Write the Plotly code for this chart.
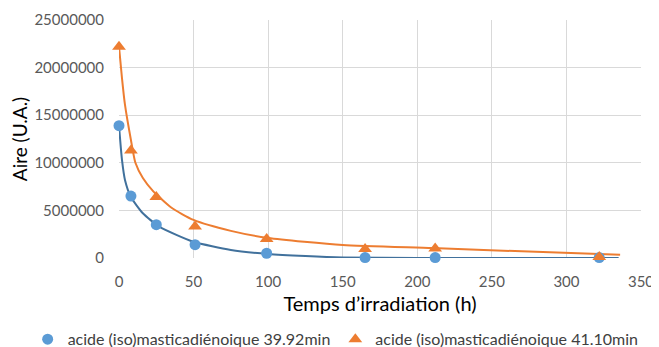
import plotly.graph_objects as go

# Measured points
temps = [0, 8, 25, 51, 99, 165, 212, 322]
aire_3992 = [13900000, 6500000, 3500000, 1400000, 500000, 50000, 50000, 50000]
aire_4110 = [22200000, 11300000, 6400000, 3300000, 2000000, 950000, 1000000, 100000]

# Trend curves
courbe_x_3992 = [0, 2, 4, 8, 16, 27, 50, 75, 100, 125, 150, 200, 250, 300, 335]
courbe_y_3992 = [13900000, 10300000, 8200000, 6400000, 4700000, 3300000, 1700000, 840000,
                 420000, 200000, 50000, 0, 0, 0, 0]
courbe_x_4110 = [0, 2, 4, 8, 11, 16, 23, 35, 50, 75, 100, 150, 210, 270, 336]
courbe_y_4110 = [22200000, 18900000, 16100000, 12400000, 10000000, 8400000, 7000000, 5300000,
                 4000000, 2850000, 2100000, 1370000, 1050000, 700000, 350000]

nom_3992 = "acide (iso)masticadiénoique 39.92min"
nom_4110 = "acide (iso)masticadiénoique 41.10min"
x_ticks = [0, 50, 100, 150, 200, 250, 300, 350]
y_ticks = [0, 5000000, 10000000, 15000000, 20000000, 25000000]

BLEU = "#5b9bd5"
BLEU_F = "#41719c"
ORANGE = "#ed7d31"
FONT = "Lato, Liberation Sans, Arial, sans-serif"

fig = go.Figure()
fig.add_trace(go.Scatter(x=courbe_x_3992, y=courbe_y_3992, mode="lines",
                         line=dict(color=BLEU_F, width=2, shape="spline", smoothing=0.6),
                         showlegend=False, hoverinfo="skip"))
fig.add_trace(go.Scatter(x=courbe_x_4110, y=courbe_y_4110, mode="lines",
                         line=dict(color=ORANGE, width=2, shape="spline", smoothing=0.6),
                         showlegend=False, hoverinfo="skip"))
fig.add_trace(go.Scatter(x=temps, y=aire_3992, mode="markers", name=nom_3992, cliponaxis=False,
                         marker=dict(symbol="circle", size=11, color=BLEU)))
fig.add_trace(go.Scatter(x=temps, y=aire_4110, mode="markers", name=nom_4110, cliponaxis=False,
                         marker=dict(symbol="triangle-up", size=12, color=ORANGE)))

fig.update_layout(
    width=651, height=339,
    margin=dict(l=111, r=18, t=12, b=89, autoexpand=False),
    paper_bgcolor="white", plot_bgcolor="white",
    font=dict(family=FONT, size=14, color="#595959"),
    legend=dict(orientation="h", x=-0.175, xanchor="left", y=-0.27, yanchor="top",
                font=dict(size=16, color="#404040"), itemwidth=30,
                tracegroupgap=0, traceorder="normal"),
)
fig.update_xaxes(range=[0, 350], tickvals=x_ticks, showgrid=True, gridcolor="#d9d9d9",
                 gridwidth=1, zeroline=False, showline=False, ticks="", automargin=False,
                 tickfont=dict(size=15, color="#595959"), ticklabelstandoff=13,
                 title=dict(text="Temps d’irradiation (h)", font=dict(size=20, color="#000000"),
                            standoff=7))
fig.update_yaxes(range=[0, 25000000], tickvals=y_ticks, tickformat="d",
                 showgrid=True, gridcolor="#d9d9d9", automargin=False,
                 gridwidth=1, zeroline=False, showline=False, ticks="",
                 tickfont=dict(size=15, color="#595959"), ticklabelstandoff=14,
                 title=dict(text="Aire (U.A.)", font=dict(size=19, color="#000000"),
                            standoff=13))

fig.write_html("out.html")
